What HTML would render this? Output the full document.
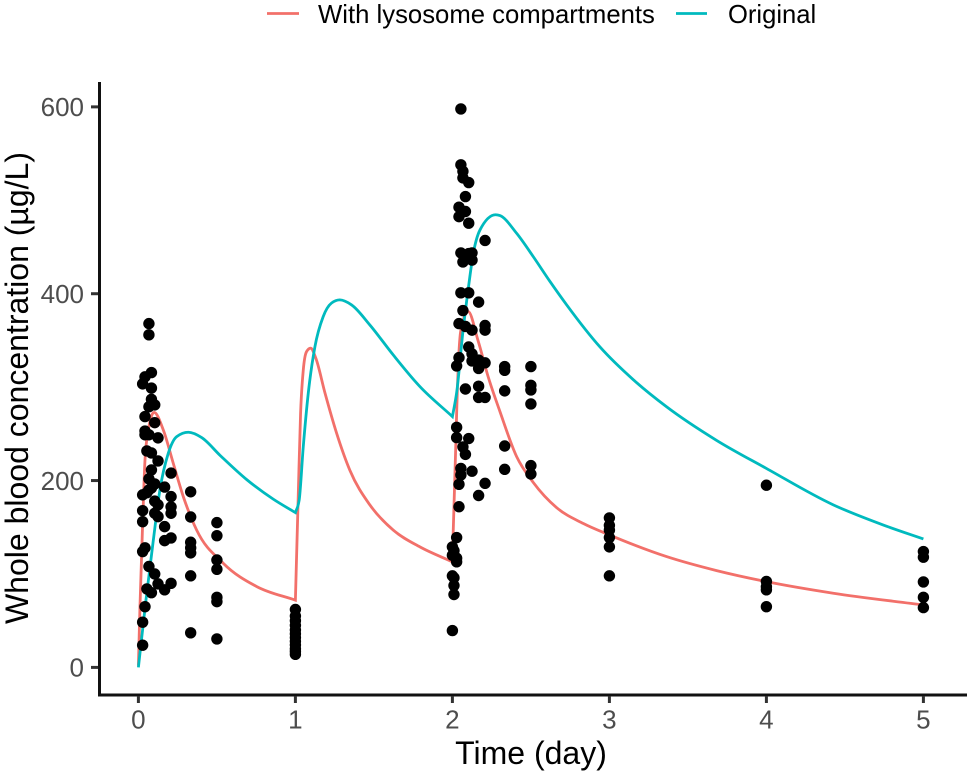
<!DOCTYPE html>
<html lang="en">
<head>
<meta charset="utf-8">
<title>Whole blood concentration over time</title>
<style>
html,body{margin:0;padding:0;background:#fff;}
svg{display:block;font-family:"Liberation Sans",sans-serif;}
</style>
</head>
<body>
<svg id="chart" xmlns="http://www.w3.org/2000/svg" width="967" height="776" viewBox="0 0 967 776">
  <rect x="0" y="0" width="967" height="776" fill="#ffffff"/>
  <g id="lines"></g>
  <g id="points"></g>
  <line x1="99.5" y1="82" x2="99.5" y2="696" stroke="#111" stroke-width="3"/>
  <line x1="98" y1="695" x2="967" y2="695" stroke="#111" stroke-width="3"/>
  <g id="xticks"></g>
  <g id="yticks"></g>
  <text x="531" y="764" font-size="32" text-anchor="middle" fill="#000">Time (day)</text>
  <text transform="translate(28,388) rotate(-90)" font-size="32" text-anchor="middle" fill="#000">Whole blood concentration (µg/L)</text>
  <g>
    <line x1="267" y1="13.5" x2="299" y2="13.5" stroke="#F2706A" stroke-width="2.8"/>
    <text x="318" y="23" font-size="25.7" fill="#000">With lysosome compartments</text>
    <line x1="676" y1="13.5" x2="707" y2="13.5" stroke="#00BABE" stroke-width="2.8"/>
    <text x="728" y="23" font-size="25.6" fill="#000">Original</text>
  </g>
</svg>
<script>
const xTickValues = [0, 1, 2, 3, 4, 5];
const yTickValues = [0, 200, 400, 600];
const doseBreaks = [1, 2];

const lysosomeTime = [0, 0.01, 0.025, 0.042, 0.063, 0.1, 0.159, 0.222, 0.286, 0.371, 0.541, 0.754, 1,
  1.018, 1.033, 1.05, 1.071, 1.097, 1.13, 1.188, 1.262, 1.347, 1.474, 1.623, 1.793, 2,
  2.005, 2.022, 2.027, 2.054, 2.1, 2.163, 2.228, 2.303, 2.409, 2.515, 2.664, 2.834, 3, 3.364, 3.683, 4, 4.426, 5];
const lysosomeConc = [2, 65, 144, 222, 254, 273, 254, 218.5, 182.8, 147, 111.4, 86.5, 72,
  183, 272, 318, 338, 341.7, 331, 294, 251, 211, 174, 147, 129, 113,
  144, 240, 272, 361, 381, 350, 311, 273.8, 225.7, 198, 171, 154, 141.8, 118.6, 103.6, 91.8, 79.4, 66.8];

const originalTime = [0, 0.048, 0.095, 0.137, 0.19, 0.244, 0.318, 0.403, 0.52, 0.69, 0.86, 1,
  1.024, 1.05, 1.082, 1.124, 1.177, 1.23, 1.283, 1.358, 1.474, 1.623, 1.793, 2,
  2.027, 2.068, 2.1, 2.133, 2.175, 2.275, 2.303, 2.409, 2.515, 2.622, 2.728, 2.94, 3.152, 3.364, 3.683, 4, 4.426, 4.745, 5];
const originalConc = [0, 72, 136, 190, 229, 247, 251.7, 246, 227, 201, 180, 165.7,
  179, 236, 293.5, 343, 375.5, 390, 393.4, 388, 366.6, 334.5, 300.6, 268.5,
  294, 361, 404, 443, 468, 484.5, 483.6, 464.7, 439.7, 413, 388, 343, 308, 279, 243, 213, 174, 152.4, 137.5];

const obsTime = [
  0.027,0.027,0.027,0.027,0.027,0.027,0.027,
  0.042,0.042,0.042,0.042,0.042,0.042,
  0.054,0.054,0.054,
  0.067,0.067,0.067,0.067,0.067,0.067,0.067,
  0.083,0.083,0.083,0.083,0.083,0.083,0.083,
  0.104,0.104,0.104,0.104,0.104,0.104,
  0.125,0.125,0.125,0.125,0.125,
  0.167,0.167,0.167,0.167,
  0.208,0.208,0.208,0.208,0.208,0.208,
  0.333,0.333,0.333,0.333,0.333,0.333,0.333,
  0.5,0.5,0.5,0.5,0.5,0.5,0.5,
  1,1,1,1,1,1,1,1,1,1,1,1,
  2,2,2,2,
  2.01,2.01,2.01,2.01,
  2.027,2.027,2.027,2.027,2.027,2.027,
  2.042,2.042,2.042,2.042,2.042,2.042,
  2.054,2.054,2.054,2.054,2.054,2.054,
  2.067,2.067,2.067,2.067,2.067,
  2.083,2.083,2.083,2.083,2.083,2.083,
  2.104,2.104,2.104,2.104,2.104,2.104,
  2.125,2.125,2.125,2.125,2.125,2.125,
  2.167,2.167,2.167,2.167,2.167,2.167,
  2.208,2.208,2.208,2.208,2.208,2.208,
  2.333,2.333,2.333,2.333,2.333,
  2.5,2.5,2.5,2.5,2.5,2.5,
  3,3,3,3,3,3,
  4,4,4,4,4,
  5,5,5,5,5
];
const obsConc = [
  303.5,184.7,167.8,156,124,48.4,23.8,
  311,268.5,253,249,128,65,
  231.7,187,84,
  368,356,279,249,201.8,190,108,
  315.6,299,287,229.6,211.4,192,80,
  281,262,196.4,178,165,100,
  245.7,221,174,161.4,89.4,
  193,150.7,135.7,83,
  208,182.8,171.8,165,138.6,90,
  188,161,134,128,122.6,98,37,
  155,141,115,105,75,70.4,30.5,
  62,55,50,45,40,36,32,28,24,20,17,14,
  129,120,98,39.4,
  125,96,87.6,78,
  322.7,257,246,139,117,113,
  492.6,482.5,368,331.6,196,172,
  597.8,538,443.7,401,213,206,
  531,524,434,382,236,
  504,488,441,365,298,228,
  519,475.5,443,401,343,245,
  443.7,436,361,335.6,328,210,
  391,329,320,301,289,184,
  457,366,361,326,289,197,
  322,318,296,237,212,
  322,302,297,282,216,207,
  160,152,147,139,129,98,
  195,92,86.4,83,65,
  124,118,91.5,75,64
];

const SVGNS = 'http://www.w3.org/2000/svg';
function xScale(t) { return 138.4 + t * 157; }
function yScale(c) { return 667.4 - c * 0.9342; }

function sign(v) { return v < 0 ? -1 : 1; }

function monotonePath(ts, cs) {
  const segs = [];
  let cur = [];
  ts.forEach(function (t, i) {
    cur.push([xScale(t), yScale(cs[i])]);
    if (doseBreaks.indexOf(t) >= 0) { segs.push(cur); cur = [[xScale(t), yScale(cs[i])]]; }
  });
  segs.push(cur);
  let d = '';
  segs.forEach(function (p, si) {
    const n = p.length;
    const s = [];
    const w = [];
    for (let i = 0; i < n - 1; i++) {
      w.push(p[i + 1][0] - p[i][0]);
      s.push((p[i + 1][1] - p[i][1]) / w[i]);
    }
    const m = [s[0]];
    for (let i = 1; i < n - 1; i++) {
      const q = (s[i - 1] * w[i] + s[i] * w[i - 1]) / (w[i - 1] + w[i]);
      m.push((sign(s[i - 1]) + sign(s[i])) * Math.min(Math.abs(s[i - 1]), Math.abs(s[i]), 0.5 * Math.abs(q)));
    }
    m.push(s[n - 2]);
    d += (si === 0 ? 'M' : 'L') + p[0][0].toFixed(2) + ' ' + p[0][1].toFixed(2);
    for (let i = 0; i < n - 1; i++) {
      const h = w[i] / 3;
      d += 'C' + (p[i][0] + h).toFixed(2) + ' ' + (p[i][1] + m[i] * h).toFixed(2) + ' ' +
        (p[i + 1][0] - h).toFixed(2) + ' ' + (p[i + 1][1] - m[i + 1] * h).toFixed(2) + ' ' +
        p[i + 1][0].toFixed(2) + ' ' + p[i + 1][1].toFixed(2);
    }
  });
  return d;
}

const linesG = document.getElementById('lines');
const lineLyso = document.createElementNS(SVGNS, 'path');


lineLyso.setAttribute('d', monotonePath(lysosomeTime, lysosomeConc));
lineLyso.setAttribute('fill', 'none');
lineLyso.setAttribute('stroke', '#F2706A');
lineLyso.setAttribute('stroke-width', '2.8');
linesG.appendChild(lineLyso);

const lineOrig = document.createElementNS(SVGNS, 'path');


lineOrig.setAttribute('d', monotonePath(originalTime, originalConc));
lineOrig.setAttribute('fill', 'none');
lineOrig.setAttribute('stroke', '#00BABE');
lineOrig.setAttribute('stroke-width', '2.8');
linesG.appendChild(lineOrig);

const pointsG = document.getElementById('points');
obsTime.forEach(function (t, i) {
  const c = document.createElementNS(SVGNS, 'circle');
  
  
  c.setAttribute('cx', xScale(t).toFixed(2));
  c.setAttribute('cy', yScale(obsConc[i]).toFixed(2));
  c.setAttribute('r', '5.7');
  c.setAttribute('fill', '#000');
  pointsG.appendChild(c);
});

const xTicksG = document.getElementById('xticks');
xTickValues.forEach(function (v) {
  const l = document.createElementNS(SVGNS, 'line');
  
  
  l.setAttribute('x1', xScale(v));
  l.setAttribute('x2', xScale(v));
  l.setAttribute('y1', '696');
  l.setAttribute('y2', '703');
  l.setAttribute('stroke', '#333');
  l.setAttribute('stroke-width', '3');
  xTicksG.appendChild(l);
  const t = document.createElementNS(SVGNS, 'text');
  
  
  t.setAttribute('x', xScale(v));
  t.setAttribute('y', '728.5');
  t.setAttribute('font-size', '26');
  t.setAttribute('text-anchor', 'middle');
  t.setAttribute('fill', '#4d4d4d');
  t.textContent = v;
  xTicksG.appendChild(t);
});

const yTicksG = document.getElementById('yticks');
yTickValues.forEach(function (v) {
  const l = document.createElementNS(SVGNS, 'line');
  
  
  l.setAttribute('x1', '91');
  l.setAttribute('x2', '98');
  l.setAttribute('y1', yScale(v));
  l.setAttribute('y2', yScale(v));
  l.setAttribute('stroke', '#333');
  l.setAttribute('stroke-width', '3');
  yTicksG.appendChild(l);
  const t = document.createElementNS(SVGNS, 'text');
  
  
  t.setAttribute('x', '84');
  t.setAttribute('y', yScale(v) + 9.2);
  t.setAttribute('font-size', '26');
  t.setAttribute('text-anchor', 'end');
  t.setAttribute('fill', '#4d4d4d');
  t.textContent = v;
  yTicksG.appendChild(t);
});
</script>
</body>
</html>
